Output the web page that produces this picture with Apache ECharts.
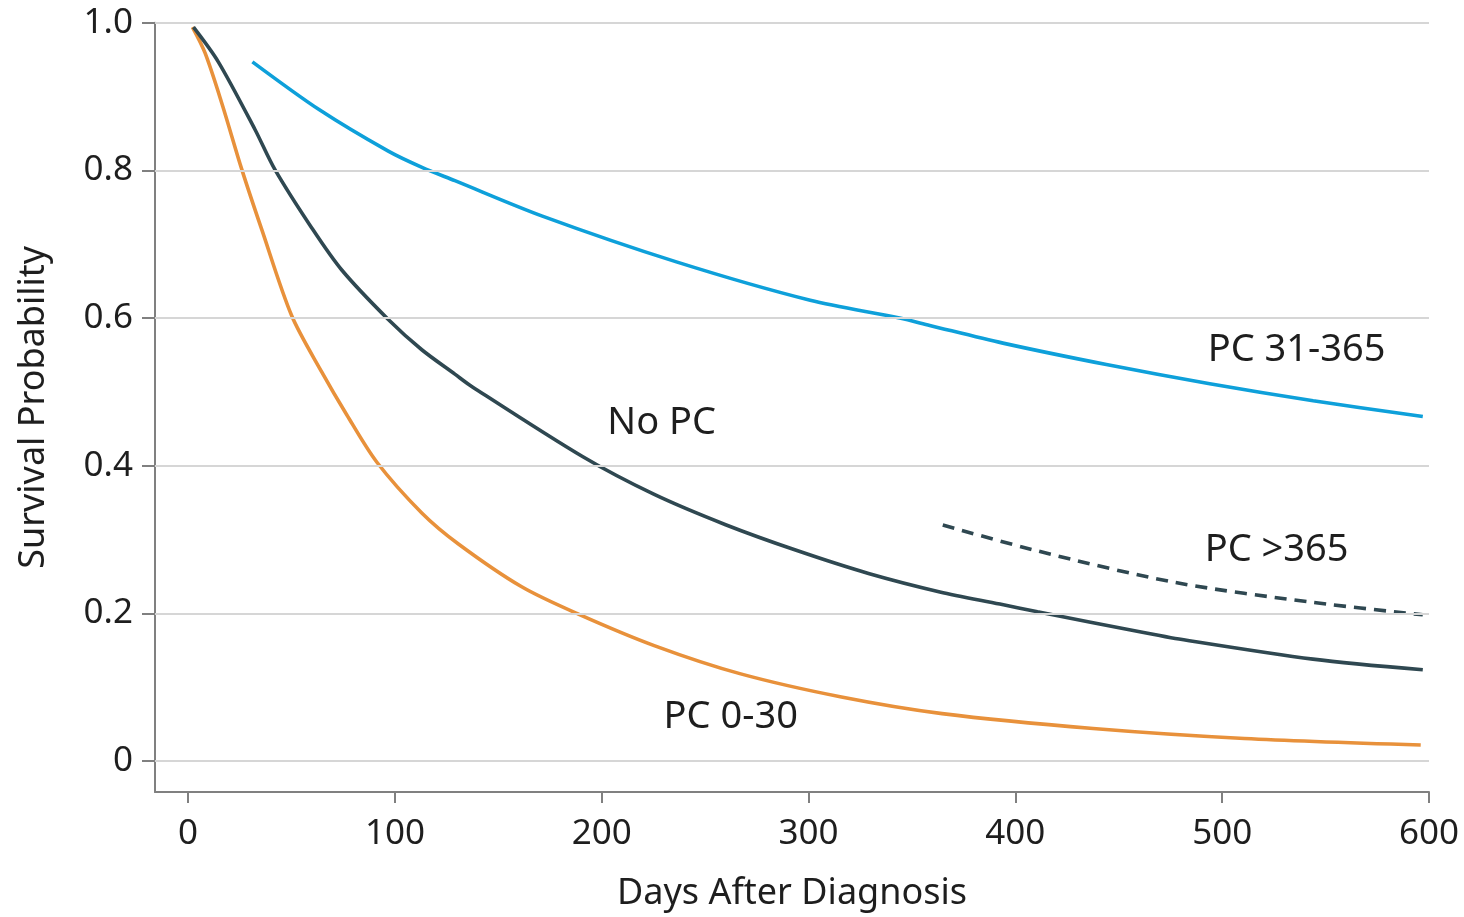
<!DOCTYPE html>
<html><head><meta charset="utf-8">
<script src="https://cdn.jsdelivr.net/npm/echarts@6/dist/echarts.min.js"></script>
<style>html,body{margin:0;padding:0;background:#fff}#c{width:1464px;height:917px}</style>
</head><body><div id="c"></div>
<script>
// ---- data ----
const xTicks = [0, 100, 200, 300, 400, 500, 600];
const yTicks = [0, 0.2, 0.4, 0.6, 0.8, 1.0];

const daysNoPC = [2.6, 14.6, 32.4, 42, 59.8, 74.3, 96.8, 113, 129, 137.3, 190.9, 225.4, 259.9, 294.4, 329, 363.5, 392.5, 410.7, 462, 477.3, 543.9, 597];
const survNoPC = [0.994, 0.947, 0.855, 0.801, 0.722, 0.665, 0.598, 0.557, 0.524, 0.507, 0.412, 0.361, 0.320, 0.285, 0.254, 0.229, 0.2125, 0.202, 0.174, 0.166, 0.138, 0.1235];

const days0to30 = [2.1, 8.2, 16.3, 26, 35.6, 50.1, 64.6, 76.7, 91.2, 113, 130.7, 161.3, 188.7, 225.7, 267.2, 315.9, 364.6, 437.6, 510.7, 596];
const surv0to30 = [0.994, 0.959, 0.891, 0.801, 0.720, 0.603, 0.527, 0.469, 0.405, 0.336, 0.294, 0.236, 0.199, 0.156, 0.118, 0.0867, 0.0642, 0.044, 0.0305, 0.0216];

const days31to365 = [31.1, 63.5, 96.8, 113.1, 129, 171.3, 236.1, 300.8, 344, 358.6, 394, 444, 494, 544, 597];
const surv31to365 = [0.947, 0.882, 0.826, 0.804, 0.786, 0.738, 0.676, 0.624, 0.600, 0.590, 0.566, 0.537, 0.511, 0.488, 0.4666];

const daysOver365 = [364.9, 410.7, 477.3, 543.9, 597];
const survOver365 = [0.3196, 0.2845, 0.2418, 0.2148, 0.198];

const seriesNames = ['No PC', 'PC 0-30', 'PC 31-365', 'PC >365'];

// ---- chart ----
const FONT = 'Noto Sans';
const pairs = (xs, ys) => xs.map((x, i) => [x, ys[i]]);
const chart = echarts.init(document.getElementById('c'), null, {renderer: 'canvas'});

function labelPoint(coord, text) {
  return {
    symbol: 'circle', symbolSize: 0, silent: true,
    data: [{coord: coord, value: text}],
    label: {show: true, position: 'inside', formatter: text, fontFamily: FONT, fontSize: 38, color: '#1e1e1e'}
  };
}

function curve(name, xs, ys, color, dash) {
  return {
    type: 'line', name: name, data: pairs(xs, ys), z: 3,
    showSymbol: false, smooth: 0.3,
    lineStyle: {color: color, width: 3.6, type: dash || 'solid'}, itemStyle: {color: color}
  };
}

const s0 = curve(seriesNames[1], days0to30, surv0to30, '#E8913B');
s0.markPoint = labelPoint([262.4, 0.06], 'PC 0-30');
const s1 = curve(seriesNames[0], daysNoPC, survNoPC, '#2F4851');
s1.markPoint = labelPoint([229, 0.4575], 'No PC');
const s2 = curve(seriesNames[2], days31to365, surv31to365, '#0EA0DA');
s2.markPoint = labelPoint([536, 0.557], 'PC 31-365');
const s3 = curve(seriesNames[3], daysOver365, survOver365, '#2F4851', [12, 8]);
s3.markPoint = labelPoint([526.3, 0.285], 'PC >365');

const option = {
  backgroundColor: '#ffffff',
  animation: false,
  grid: {left: 155, right: 35, top: 22.7, bottom: 121.3, containLabel: false},
  xAxis: {
    type: 'value', min: -16, max: 600,
    name: 'Days After Diagnosis', nameLocation: 'middle', nameGap: 84,
    nameTextStyle: {fontFamily: FONT, fontSize: 36, color: '#1e1e1e'},
    axisLine: {show: true, onZero: false, lineStyle: {color: '#808080', width: 2}},
    axisTick: {show: true, customValues: xTicks, length: 11, lineStyle: {color: '#808080', width: 2}},
    axisLabel: {show: true, customValues: xTicks, margin: 25, fontFamily: FONT, fontSize: 35, color: '#1e1e1e'},
    splitLine: {show: false}
  },
  yAxis: {
    type: 'value', min: -0.042, max: 1.0,
    name: 'Survival Probability', nameLocation: 'middle', nameGap: 103,
    nameTextStyle: {fontFamily: FONT, fontSize: 36, color: '#1e1e1e'},
    axisLine: {show: true, onZero: false, lineStyle: {color: '#808080', width: 2}},
    axisTick: {show: true, customValues: yTicks, length: 13, lineStyle: {color: '#808080', width: 2}},
    axisLabel: {show: true, customValues: yTicks, margin: 22, fontFamily: FONT, fontSize: 35, color: '#1e1e1e',
      formatter: v => (Math.abs(v) < 1e-9 ? '0' : v.toFixed(1))},
    splitLine: {show: false}
  },
  series: [
    {
      type: 'line', name: 'grid', data: [], z: 1, silent: true,
      markLine: {
        silent: true, symbol: ['none', 'none'], animation: false,
        label: {show: false},
        lineStyle: {color: '#d6d6d6', width: 2, type: 'solid'},
        data: yTicks.map(v => ({yAxis: v}))
      }
    },
    s0, s1, s2, s3
  ]
};
chart.setOption(option);
</script></body></html>
